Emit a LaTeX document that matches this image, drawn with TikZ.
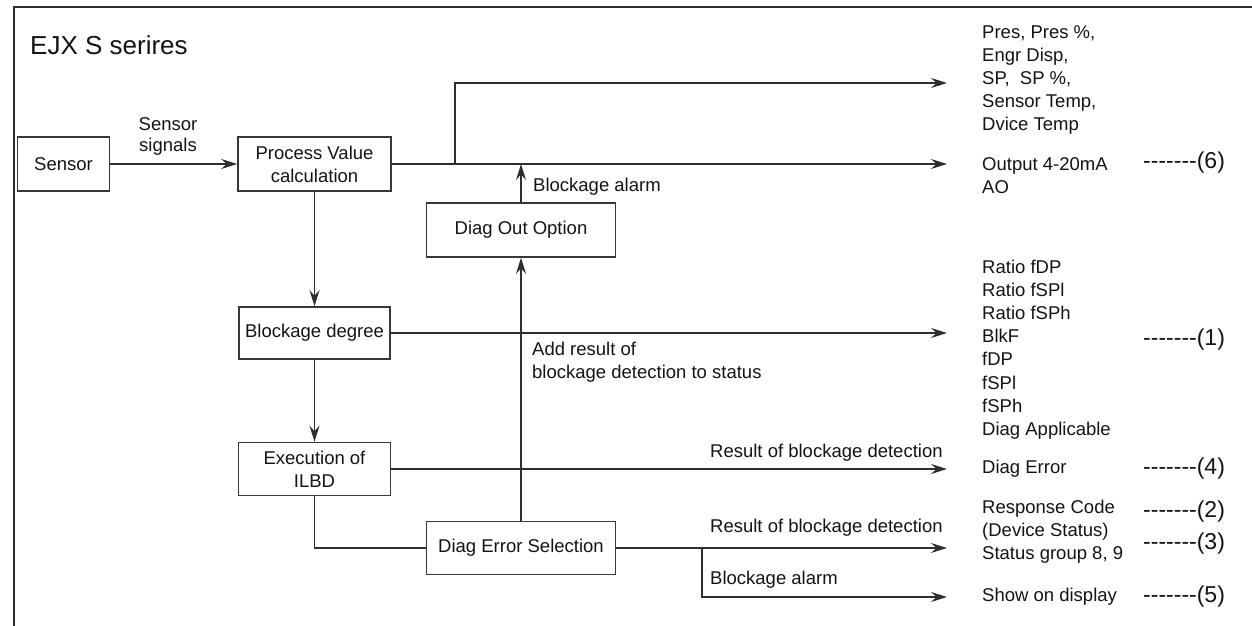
\documentclass[tikz,border=0pt]{standalone}
\usepackage{fontspec}
\setmainfont{Liberation Sans}
\usetikzlibrary{arrows.meta}
\newcommand\dgbody{\fontsize{18.5}{23.2}\selectfont}
\newcommand\dgsig{\fontsize{18.5}{21}\selectfont}
\newcommand\dgref{\fontsize{23}{27}\selectfont}
\newcommand\dgtitle{\fontsize{26}{30}\selectfont}
\newcommand\dghy{-\kern0pt\relax}
\newcommand\dgdashes{\dghy\dghy\dghy\dghy\dghy\dghy\dghy}
\begin{document}
\begin{tikzpicture}[x=1pt,y=-1pt,
  line/.style={draw=black!82, line width=1.6pt},
  arr/.style={line, -{Stealth[length=16pt,width=10pt,inset=5.5pt]}},
  box/.style={draw=black!78, line width=1.6pt, inner sep=0pt, align=center, font=\dgbody, text=black!92},
  lbl/.style={inner sep=0pt, font=\dgbody, text=black!92, align=left},
  refl/.style={inner sep=0pt, font=\dgref, text=black!92, anchor=west},
]
\useasboundingbox (0,0) rectangle (1252,626);
\fill[white] (0,0) rectangle (1252,626);
% frame
\draw[line] (14,626) -- (14,7) -- (1252,7);
\node[inner sep=0pt, anchor=base west, font=\dgtitle, text=black!92] (title) at (30,55) {EJX S serires};
% boxes
\node[box, minimum width=92pt, minimum height=54pt] (sensor) at (63.5,164) {Sensor};
\node[box, minimum width=153pt, minimum height=54pt] (pv) at (314.5,164) {Process Value\\calculation};
\node[box, minimum width=151pt, minimum height=52pt] (blk) at (314.5,333) {Blockage degree};
\node[box, minimum width=152pt, minimum height=53pt] (ilbd) at (314.5,469) {Execution of\\ILBD};
\node[box, minimum width=189pt, minimum height=54pt] (dout) at (521,230) {Diag Out Option};
\node[box, minimum width=189pt, minimum height=53pt] (des) at (521,548) {Diag Error Selection};
% connector labels
\node[lbl, align=center, font=\dgsig] (sig) at (168,136.5) {Sensor\\signals};
\node[lbl, anchor=west] (ba1) at (533,187) {Blockage alarm};
\node[lbl, anchor=west] (add) at (532,362.5) {Add result of\\blockage detection to status};
\node[lbl, anchor=west] (r1) at (710,453) {Result of blockage detection};
\node[lbl, anchor=west] (r2) at (710,528) {Result of blockage detection};
\node[lbl, anchor=west] (ba2) at (710,580) {Blockage alarm};
% outputs
\node[lbl, anchor=west] (pres) at (982,80) {Pres, Pres \%,\\Engr Disp,\\SP,\ \ SP \%,\\Sensor Temp,\\Dvice Temp};
\node[lbl, anchor=west] (outp) at (982,175.5) {Output 4-20mA\\AO};
\node[lbl, anchor=west] (ratio) at (982,349.5) {Ratio fDP\\Ratio fSPl\\Ratio fSPh\\BlkF\\fDP\\fSPl\\fSPh\\Diag Applicable};
\node[lbl, anchor=west] (derr) at (982,469) {Diag Error};
\node[lbl, anchor=west] (resp) at (982,531.5) {Response Code\\(Device Status)\\Status group 8, 9};
\node[lbl, anchor=west] (show) at (982,597) {Show on display};
% references
\node[refl] (n6) at (1143,163) {\dgdashes(6)};
\node[refl] (n1) at (1143,340) {\dgdashes(1)};
\node[refl] (n4) at (1143,469) {\dgdashes(4)};
\node[refl] (n2) at (1143,512) {\dgdashes(2)};
\node[refl] (n3) at (1143,544) {\dgdashes(3)};
\node[refl] (n5) at (1143,597) {\dgdashes(5)};
% helper coordinates
\coordinate (tipx) at (947,0);
\coordinate (bx) at (455,83);
\coordinate (brx) at (702,0);
% connectors
\draw[arr] (sensor.east) -- (pv.west);
\draw[arr] (pv.east) -- (pv.east -| tipx);
\draw[arr] (pv.east -| bx) -- (bx) -- (bx -| tipx);
\draw[arr] (dout.north) -- (dout.north |- pv.east);
\draw[arr] (pv.south) -- (blk.north);
\draw[arr] (blk.east) -- (blk.east -| tipx);
\draw[arr] (blk.south) -- (ilbd.north);
\draw[arr] (ilbd.east) -- (ilbd.east -| tipx);
\draw[line] (ilbd.south) |- (des.west);
\draw[arr] (des.north) -- (dout.south);
\draw[arr] (des.east) -- (des.east -| tipx);
\draw[arr] (des.east -| brx) |- (show.west -| tipx);
\end{tikzpicture}
\end{document}
